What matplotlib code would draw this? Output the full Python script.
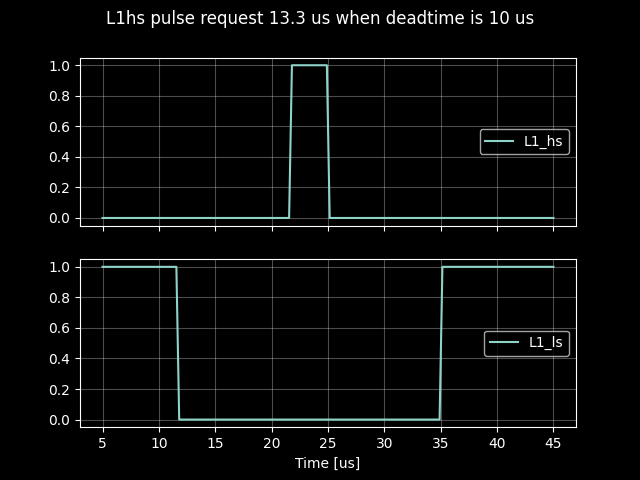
import matplotlib
matplotlib.use("Agg")
import matplotlib.pyplot as plt

# breakpoints
t_hs = [5, 21.55, 21.8, 24.9, 25.15, 45]
l1_hs = [0, 0, 1, 1, 0, 0]
t_ls = [5, 11.55, 11.8, 34.9, 35.15, 45]
l1_ls = [1, 1, 0, 0, 1, 1]

plt.style.use("dark_background")
fig, (ax1, ax2) = plt.subplots(2, 1, sharex=True, figsize=(6.4, 4.8), dpi=100)

ax1.plot(t_hs, l1_hs, label="L1_hs")
ax1.legend(loc="center right")
ax1.grid(True, alpha=0.3)

ax2.plot(t_ls, l1_ls, label="L1_ls")
ax2.legend(loc="center right")
ax2.grid(True, alpha=0.3)
ax2.set_xlabel("Time [us]")
ax2.set_xticks(range(5, 46, 5))

fig.suptitle("L1hs pulse request 13.3 us when deadtime is 10 us")
plt.savefig("out.png")
